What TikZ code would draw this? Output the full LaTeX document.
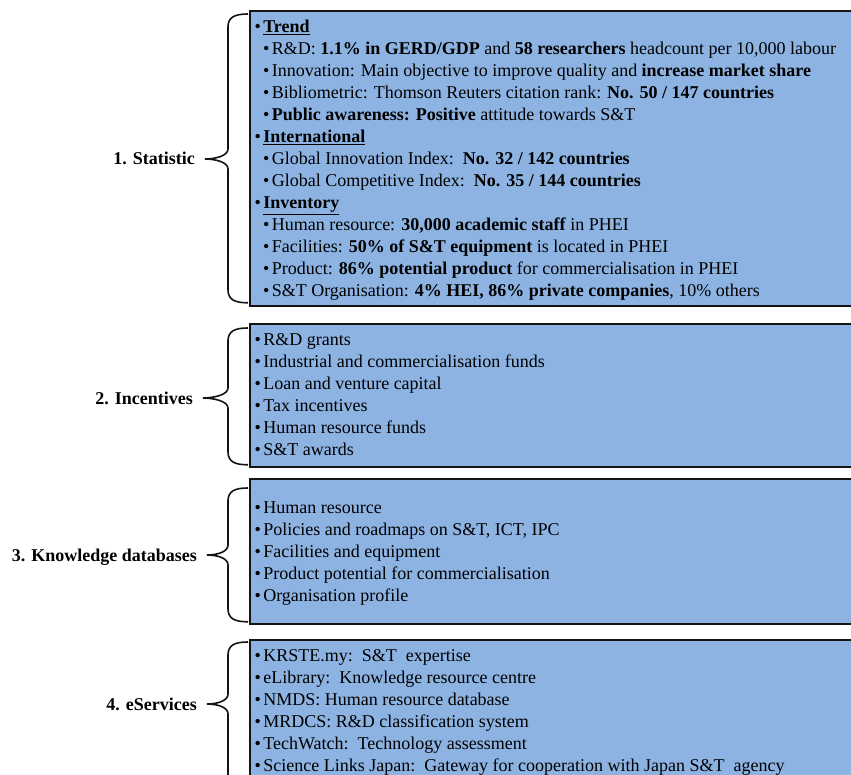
\documentclass[tikz,border=0pt]{standalone}
\usepackage{fontspec}
\setmainfont{Liberation Serif}
\usetikzlibrary{calc}
\definecolor{boxblue}{RGB}{141,179,226}
\definecolor{inkline}{RGB}{20,20,20}
% bullet with a fixed advance so that item texts line up
\newcommand\bul{\makebox[8.6pt][l]{•}}
% curly brace from a panel's left side to the tip next to its label
\newcommand\curly[4]{%
  \draw[bracepen] let \p1=($(#1.north west)+(-1,#3)$),
                      \p2=($(#1.south west)+(-1,-#4)$),
                      \p3=($(#2.base east)+(10,-6)$),
                      \p4=($(#1.north west)+(-21,0)$) in
    (\x1,\y1) .. controls ({\x4+7pt},\y1) and (\x4,{\y1-3pt}) .. (\x4,{\y1-13pt})
    -- (\x4,{\y3+10pt}) .. controls (\x4,{\y3+3pt}) and ({\x3+10pt},\y3) .. (\x3,\y3)
    .. controls ({\x3+10pt},\y3) and (\x4,{\y3-3pt}) .. (\x4,{\y3-10pt})
    -- (\x4,{\y2+13pt}) .. controls (\x4,{\y2+3pt}) and ({\x4+7pt},\y2) .. (\x2,\y2);}
\begin{document}
\begin{tikzpicture}[x=1pt,y=-1pt,
  panel/.style={draw=inkline, line width=1.8pt, fill=boxblue, anchor=north west,
                inner sep=0pt, minimum width=640pt},
  tag/.style={anchor=base east, inner sep=0pt, font=\bfseries\fontsize{18}{22}\selectfont},
  itm/.style={anchor=base west, inner sep=0pt, font=\fontsize{18}{22}\selectfont},
  bracepen/.style={draw=inkline, line width=1.6pt}]
\useasboundingbox (0,0) rectangle (851,775);
\clip (0,0) rectangle (851,775);

% panels
\node[panel, minimum height=295pt] (b1) at (249,10) {};
\node[panel, minimum height=143pt] (b2) at (249,323) {};
\node[panel, minimum height=145pt] (b3) at (249,478) {};
\node[panel, minimum height=150pt] (b4) at (249,639) {};

% category labels
\node[tag] (l1) at (195,165) {1. Statistic};
\node[tag] (l2) at (193,404) {2. Incentives};
\node[tag] (l3) at (197,561) {3. Knowledge databases};
\node[tag] (l4) at (197,710) {4. eServices};

\curly{b1}{l1}{4}{4}
\curly{b2}{l2}{5}{3}
\curly{b3}{l3}{10}{3}
\curly{b4}{l4}{3}{-4}

% panel 1: statistics
\node[itm] (s1)  at (254.5,33) {\bul\underline{\textbf{Trend}}};
\node[itm] (s2)  at (263,55)  {\bul R\&D: \textbf{1.1\% in GERD/GDP} and \textbf{58 researchers} headcount per 10,000 labour};
\node[itm] (s3)  at (263,77)  {\bul Innovation: Main objective to improve quality and \textbf{increase market share}};
\node[itm] (s4)  at (263,99)  {\bul Bibliometric: Thomson Reuters citation rank: \textbf{No. 50 / 147 countries}};
\node[itm] (s5)  at (263,121) {\bul\textbf{Public awareness: Positive} attitude towards S\&T};
\node[itm] (s6)  at (254.5,143) {\bul\underline{\textbf{International}}};
\node[itm] (s7)  at (263,165) {\bul Global Innovation Index:\ \ \textbf{No. 32 / 142 countries}};
\node[itm] (s8)  at (263,187) {\bul Global Competitive Index:\ \ \textbf{No. 35 / 144 countries}};
\node[itm] (s9)  at (254.5,209) {\bul\underline{\textbf{Inventory}}};
\node[itm] (s10) at (263,231) {\bul Human resource: \textbf{30,000 academic staff} in PHEI};
\node[itm] (s11) at (263,253) {\bul Facilities: \textbf{50\% of S\&T equipment} is located in PHEI};
\node[itm] (s12) at (263,275) {\bul Product: \textbf{86\% potential product} for commercialisation in PHEI};
\node[itm] (s13) at (263,297) {\bul S\&T Organisation: \textbf{4\% HEI, 86\% private companies}, 10\% others};

% panel 2: incentives
\node[itm] (i1) at (254.5,345) {\bul R\&D grants};
\node[itm] (i2) at (254.5,367) {\bul Industrial and commercialisation funds};
\node[itm] (i3) at (254.5,389) {\bul Loan and venture capital};
\node[itm] (i4) at (254.5,411) {\bul Tax incentives};
\node[itm] (i5) at (254.5,433) {\bul Human resource funds};
\node[itm] (i6) at (254.5,455) {\bul S\&T awards};

% panel 3: knowledge databases
\node[itm] (k1) at (254.5,513) {\bul Human resource};
\node[itm] (k2) at (254.5,535) {\bul Policies and roadmaps on S\&T, ICT, IPC};
\node[itm] (k3) at (254.5,557) {\bul Facilities and equipment};
\node[itm] (k4) at (254.5,579) {\bul Product potential for commercialisation};
\node[itm] (k5) at (254.5,601) {\bul Organisation profile};

% panel 4: eServices
\node[itm] (e1) at (254.5,661) {\bul KRSTE.my:\ \ S\&T\ \ expertise};
\node[itm] (e2) at (254.5,683) {\bul eLibrary:\ \ Knowledge resource centre};
\node[itm] (e3) at (254.5,705) {\bul NMDS: Human resource database};
\node[itm] (e4) at (254.5,727) {\bul MRDCS: R\&D classification system};
\node[itm] (e5) at (254.5,749) {\bul TechWatch:\ \ Technology assessment};
\node[itm] (e6) at (254.5,771) {\bul Science Links Japan:\ \ Gateway for cooperation with Japan S\&T\ \ agency};
\end{tikzpicture}
\end{document}
